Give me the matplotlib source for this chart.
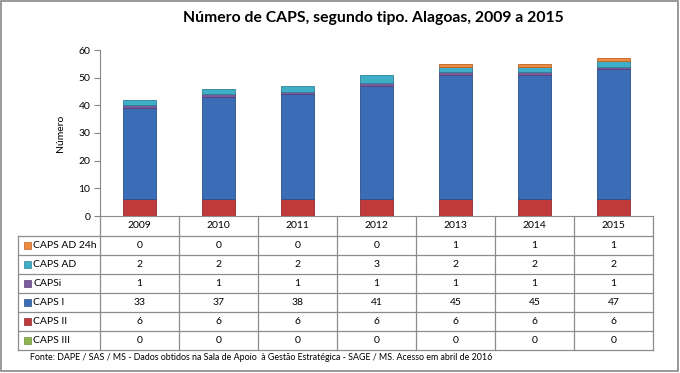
import matplotlib
matplotlib.use("Agg")
import matplotlib.pyplot as plt
from matplotlib.patches import Rectangle
from matplotlib.lines import Line2D
import numpy as np

years = ["2009", "2010", "2011", "2012", "2013", "2014", "2015"]
caps_iii = [0, 0, 0, 0, 0, 0, 0]
caps_ii = [6, 6, 6, 6, 6, 6, 6]
caps_i = [33, 37, 38, 41, 45, 45, 47]
caps_i_inf = [1, 1, 1, 1, 1, 1, 1]
caps_ad = [2, 2, 2, 3, 2, 2, 2]
caps_ad24 = [0, 0, 0, 0, 1, 1, 1]

series_names = ["CAPS III", "CAPS II", "CAPS I", "CAPSi", "CAPS AD", "CAPS AD 24h"]
series_vals = [caps_iii, caps_ii, caps_i, caps_i_inf, caps_ad, caps_ad24]
colors = ["#8DB44F", "#C0393B", "#3A6DB5", "#7B5A9E", "#3FAFC8", "#F08A3C"]
edge_colors = ["#6E8F3A", "#8E2A2C", "#2A5189", "#5A4078", "#2E8197", "#B8652A"]

title = "Número de CAPS, segundo tipo. Alagoas, 2009 a 2015"
ylabel = "Número"
source = "Fonte: DAPE / SAS / MS - Dados obtidos na Sala de Apoio  à Gestão Estratégica - SAGE / MS. Acesso em abril de 2016"

plt.rcParams['font.family'] = ['Lato', 'DejaVu Sans']

W, H = 680, 373
fig = plt.figure(figsize=(W / 100, H / 100), dpi=100)

def fx(x):
    return x / W

def fy(y):
    return 1 - y / H

# plot area
L, R, T, B = 100, 653, 50, 216
ax = fig.add_axes([fx(L), fy(B), fx(R) - fx(L), fy(T) - fy(B)])
x = np.arange(len(years))
bottom = np.zeros(len(years))
for name, vals, c, ec in zip(series_names, series_vals, colors, edge_colors):
    v = np.array(vals, dtype=float)
    lws = [0.6 if val > 0 else 0 for val in v]
    ax.bar(x, v, width=0.41, bottom=bottom, color=c, edgecolor=ec, linewidth=lws)
    bottom += v
ax.set_xlim(-0.5, len(years) - 0.5)
ax.set_ylim(0, 60)
ax.set_yticks(range(0, 61, 10))
ax.set_xticks([])
for s in ["top", "right"]:
    ax.spines[s].set_visible(False)
ax.spines["left"].set_color("#868686")
ax.spines["bottom"].set_color("#8c8c8c")
ax.tick_params(axis="y", direction="out", length=4, color="#868686", labelsize=7.5, pad=3, labelcolor="#000000")
ax.patch.set_alpha(0)

fig.text(fx(60), fy(133), ylabel, rotation=90, ha="center", va="center", fontsize=7.5)
fig.text(fx(373), fy(18), title, ha="center", va="center", fontsize=11.3, fontweight="bold")

# data table
line_c = "#8c8c8c"
col_edges = [L + i * (R - L) / len(years) for i in range(len(years) + 1)]
row_edges = [236 + i * 19 for i in range(7)]
tl = 18

def hline(y, x0, x1):
    fig.add_artist(Line2D([fx(x0), fx(x1)], [fy(y), fy(y)], color=line_c, lw=0.9))

def vline(xp, y0, y1):
    fig.add_artist(Line2D([fx(xp), fx(xp)], [fy(y0), fy(y1)], color=line_c, lw=0.9))

for ry in row_edges:
    hline(ry, tl, R)
vline(tl, row_edges[0], row_edges[-1])
for cx in col_edges:
    vline(cx, B, row_edges[-1])

for i, yr in enumerate(years):
    cx = (col_edges[i] + col_edges[i + 1]) / 2
    fig.text(fx(cx), fy((B + row_edges[0]) / 2), yr, ha="center", va="center", fontsize=7.5)

table_order = list(range(len(series_names)))[::-1]
for r, si in enumerate(table_order):
    cy = (row_edges[r] + row_edges[r + 1]) / 2
    fig.add_artist(Rectangle((fx(23.5), fy(cy + 3.5)), fx(7), 7 / H,
                             facecolor=colors[si], edgecolor=edge_colors[si], lw=0.5))
    fig.text(fx(33), fy(cy), series_names[si], ha="left", va="center", fontsize=7.5)
    for i in range(len(years)):
        cx = (col_edges[i] + col_edges[i + 1]) / 2
        fig.text(fx(cx), fy(cy), str(series_vals[si][i]), ha="center", va="center", fontsize=7.5)

fig.text(fx(30), fy(358), source, ha="left", va="center", fontsize=6.4)

# outer border
fig.add_artist(Rectangle((fx(0.5), fy(371)), fx(678) - fx(0.5), fy(0.5) - fy(371),
                         fill=False, edgecolor="#878787", lw=1.2))

fig.savefig("out.png", dpi=100)
